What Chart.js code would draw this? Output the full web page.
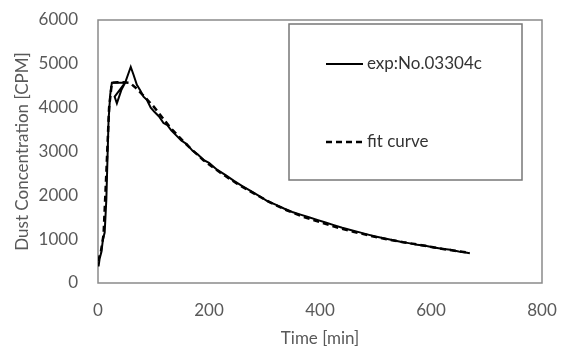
<!DOCTYPE html>
<html>
<head>
<meta charset="utf-8">
<script src="https://cdn.jsdelivr.net/npm/chart.js@4"></script>
<style>
  html, body { margin: 0; padding: 0; background: #fff; }
  #wrap { width: 566px; height: 354px; }
</style>
</head>
<body>
<div id="wrap"><canvas id="chart" width="566" height="354"></canvas></div>
<script>
/* =============================================
   DUST CONCENTRATION - measured vs fit
   ============================================= */

// measured series: time [min] / concentration [CPM]
const expTime = [0, 1, 3, 6, 9, 12, 15, 19, 22, 25, 49, 30, 34, 42, 49, 54, 59, 64, 70, 76, 82, 88, 95, 102, 110, 118, 125, 132, 140, 150, 160, 170, 180, 190, 200, 215, 230, 245, 260, 275, 290, 305, 320, 335, 350, 365, 380, 395, 410, 425, 440, 455, 470, 485, 500, 515, 530, 545, 560, 575, 590, 605, 620, 635, 650, 660, 670];
const expValue = [450, 380, 560, 700, 1000, 1150, 1900, 3700, 4300, 4570, 4570, 4250, 4100, 4400, 4570, 4750, 4930, 4750, 4520, 4400, 4250, 4180, 4000, 3900, 3800, 3650, 3600, 3480, 3380, 3250, 3170, 3020, 2930, 2810, 2740, 2580, 2460, 2330, 2210, 2100, 1990, 1870, 1790, 1700, 1620, 1560, 1500, 1440, 1380, 1320, 1260, 1210, 1160, 1110, 1060, 1020, 980, 940, 910, 870, 850, 810, 780, 760, 720, 700, 680];

// fitted curve
const fitTime = [0, 5, 10, 15, 20, 25, 35, 45, 55, 60, 70, 80, 100, 130, 160, 190, 220, 250, 280, 310, 340, 370, 400, 430, 460, 490, 520, 550, 580, 610, 640, 670];
const fitValue = [500, 700, 1100, 2500, 4000, 4570, 4580, 4580, 4570, 4540, 4430, 4300, 4030, 3550, 3150, 2800, 2520, 2270, 2050, 1840, 1660, 1510, 1390, 1270, 1170, 1080, 1000, 930, 870, 800, 740, 690];

const seriesLabels = ['exp:No.03304c', 'fit curve'];

const FONT = "Lato, 'Open Sans', sans-serif";
const TEXT = '#595959';

const toPoints = (xs, ys) => xs.map((x, i) => ({ x, y: ys[i] }));

// frame around plot area
const framePlugin = {
    id: 'frame',
    beforeDatasetsDraw(chart) {
        const { ctx, chartArea: a } = chart;
        ctx.save();
        ctx.strokeStyle = '#8a8a8a';
        ctx.lineWidth = 1.5;
        ctx.strokeRect(a.left, a.top, a.right - a.left, a.bottom - a.top);
        ctx.restore();
    }
};

// boxed legend in the upper right
const boxLegend = {
    id: 'boxLegend',
    afterDatasetsDraw(chart) {
        const { ctx } = chart;
        const box = { x: 289, y: 24, w: 233, h: 156 };
        ctx.save();
        ctx.fillStyle = '#fff';
        ctx.fillRect(box.x, box.y, box.w, box.h);
        ctx.strokeStyle = '#777';
        ctx.lineWidth = 1.5;
        ctx.strokeRect(box.x, box.y, box.w, box.h);

        const rows = [
            { y: 64, dash: [], width: 1.8 },
            { y: 142, dash: [6, 4], width: 2.5 }
        ];
        rows.forEach((r, i) => {
            ctx.strokeStyle = '#000';
            ctx.lineWidth = r.width;
            ctx.setLineDash(r.dash);
            ctx.beginPath();
            ctx.moveTo(326, r.y);
            ctx.lineTo(363, r.y);
            ctx.stroke();
            ctx.setLineDash([]);
            ctx.fillStyle = '#333';
            ctx.font = '17px ' + FONT;
            ctx.textBaseline = 'middle';
            ctx.fillText(seriesLabels[i], 367, r.y);
        });
        ctx.restore();
    }
};

new Chart(document.getElementById('chart'), {
    type: 'scatter',
    data: {
        datasets: [
            {
                label: seriesLabels[1],
                data: toPoints(fitTime, fitValue),
                showLine: true,
                borderColor: '#000',
                borderWidth: 2.5,
                borderDash: [6, 4],
                pointRadius: 0,
                tension: 0
            },
            {
                label: seriesLabels[0],
                data: toPoints(expTime, expValue),
                showLine: true,
                borderColor: '#000',
                borderWidth: 2,
                pointRadius: 0,
                tension: 0
            }
        ]
    },
    options: {
        responsive: false,
        animation: false,
        layout: { padding: { top: 20, right: 24, left: 0, bottom: 0 } },
        plugins: {
            legend: { display: false },
            tooltip: { enabled: false }
        },
        scales: {
            x: {
                type: 'linear',
                min: 0,
                max: 800,
                ticks: { stepSize: 200, color: TEXT, font: { family: FONT, size: 17 }, padding: 17, maxRotation: 0, callback: v => String(v) },
                grid: { display: false, drawTicks: false },
                border: { display: false },
                title: { display: true, text: 'Time [min]', color: TEXT, font: { family: FONT, size: 17 }, padding: { top: 0, bottom: 5 } },
                afterFit(scale) {
                    scale.height = 71;
                    scale.paddingLeft = 0;
                    scale.paddingRight = 0;
                }
            },
            y: {
                min: 0,
                max: 6000,
                ticks: { stepSize: 1000, color: TEXT, font: { family: FONT, size: 17 }, padding: 20, callback: v => String(v) },
                grid: { display: false, drawTicks: false },
                border: { display: false },
                title: { display: true, text: 'Dust Concentration [CPM]', color: TEXT, font: { family: FONT, size: 17 }, padding: { top: 12, bottom: 0 } },
                afterFit(scale) {
                    scale.width = 98;
                    scale.paddingTop = 0;
                    scale.paddingBottom = 0;
                }
            }
        }
    },
    plugins: [framePlugin, boxLegend]
});
</script>
</body>
</html>
